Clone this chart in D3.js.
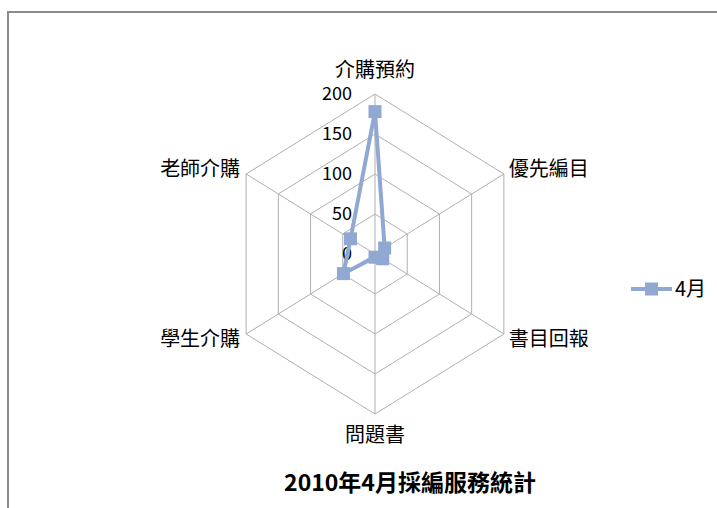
<!DOCTYPE html>
<html>
<head>
<meta charset="utf-8">
<script src="https://cdnjs.cloudflare.com/ajax/libs/d3/7.8.5/d3.min.js"></script>
<style>
  body { margin: 0; background: #fff; }
  text { font-family: "Noto Sans CJK TC", "Noto Sans", sans-serif; }
</style>
</head>
<body>
<div id="chart"></div>
<script>
const categories = ["介購預約", "優先編目", "書目回報", "問題書", "學生介購", "老師介購"];
const values = [178, 15, 12, 4, 49, 38];
const ticks = [0, 50, 100, 150, 200];
const seriesName = "4月";
const title = "2010年4月採編服務統計";

const width = 717, height = 508;
const cx = 375, cy = 254;
const sx = 0.93; // excel stretched the plot a bit horizontally
const color = "#91a8d2";

const svg = d3.select("#chart").append("svg")
    .attr("width", width)
    .attr("height", height);

// chart area frame
svg.append("rect")
    .attr("x", 8).attr("y", 12)
    .attr("width", 730).attr("height", 520)
    .attr("fill", "none")
    .attr("stroke", "#8c8c8c")
    .attr("stroke-width", 2);

const r = d3.scaleLinear().domain([0, 200]).range([0, 160]);
const angle = d3.scaleLinear().domain([0, categories.length]).range([0, 2 * Math.PI]);

function pt(i, v) {
    const a = angle(i);
    return [cx + sx * r(v) * Math.sin(a), cy - r(v) * Math.cos(a)];
}

const grid = svg.append("g")
    .attr("fill", "none")
    .attr("stroke", "#b0b0b0")
    .attr("stroke-width", 1);

// rings
grid.selectAll("path.ring")
    .data(ticks.slice(1))
    .enter().append("path")
    .attr("class", "ring")
    .attr("d", t => d3.line()(categories.map((c, i) => pt(i, t))) + "Z");

// spokes
grid.selectAll("line")
    .data(categories)
    .enter().append("line")
    .attr("x1", cx).attr("y1", cy)
    .attr("x2", (d, i) => pt(i, 200)[0])
    .attr("y2", (d, i) => pt(i, 200)[1]);

// value axis labels
svg.append("g").selectAll("text")
    .data(ticks)
    .enter().append("text")
    .attr("x", cx - 23)
    .attr("y", t => cy - r(t))
    .attr("dy", "0.35em")
    .attr("text-anchor", "end")
    .attr("font-size", 18)
    .attr("fill", "#000")
    .text(t => t);

// category labels
svg.append("g").selectAll("text")
    .data(categories)
    .enter().append("text")
    .attr("x", (d, i) => {
        const p = pt(i, 200);
        const s = Math.sin(angle(i));
        return s > 0.1 ? p[0] + 5 : s < -0.1 ? p[0] - 6 : p[0];
    })
    .attr("y", (d, i) => {
        const p = pt(i, 200);
        const c = Math.cos(angle(i));
        return c > 0.9 ? p[1] - 24 : c < -0.9 ? p[1] + 21 : p[1] - 5 * Math.sign(c);
    })
    .attr("dy", "0.35em")
    .attr("text-anchor", (d, i) => {
        const s = Math.sin(angle(i));
        return s > 0.1 ? "start" : s < -0.1 ? "end" : "middle";
    })
    .attr("font-size", 20)
    .attr("fill", "#000")
    .text(d => d);

// series
const pts = values.map((v, i) => pt(i, v));
svg.append("path")
    .attr("d", d3.line()(pts) + "Z")
    .attr("fill", "none")
    .attr("stroke", color)
    .attr("stroke-width", 4)
    .attr("stroke-linejoin", "round");

svg.append("g").selectAll("rect")
    .data(pts)
    .enter().append("rect")
    .attr("x", d => d[0] - 6.5)
    .attr("y", d => d[1] - 6.5)
    .attr("width", 13).attr("height", 13)
    .attr("fill", color);

// legend
const lg = svg.append("g").attr("transform", "translate(631,289)");
lg.append("line")
    .attr("x1", 0).attr("x2", 41)
    .attr("stroke", color).attr("stroke-width", 4);
lg.append("rect")
    .attr("x", 14).attr("y", -6.5)
    .attr("width", 13).attr("height", 13)
    .attr("fill", color);
lg.append("text")
    .attr("x", 44).attr("dy", "0.35em")
    .attr("font-size", 20)
    .text(seriesName);

// title
svg.append("text")
    .attr("x", 410).attr("y", 483)
    .attr("dy", "0.35em")
    .attr("text-anchor", "middle")
    .attr("font-size", 23)
    .attr("font-weight", "bold")
    .text(title);
</script>
</body>
</html>
